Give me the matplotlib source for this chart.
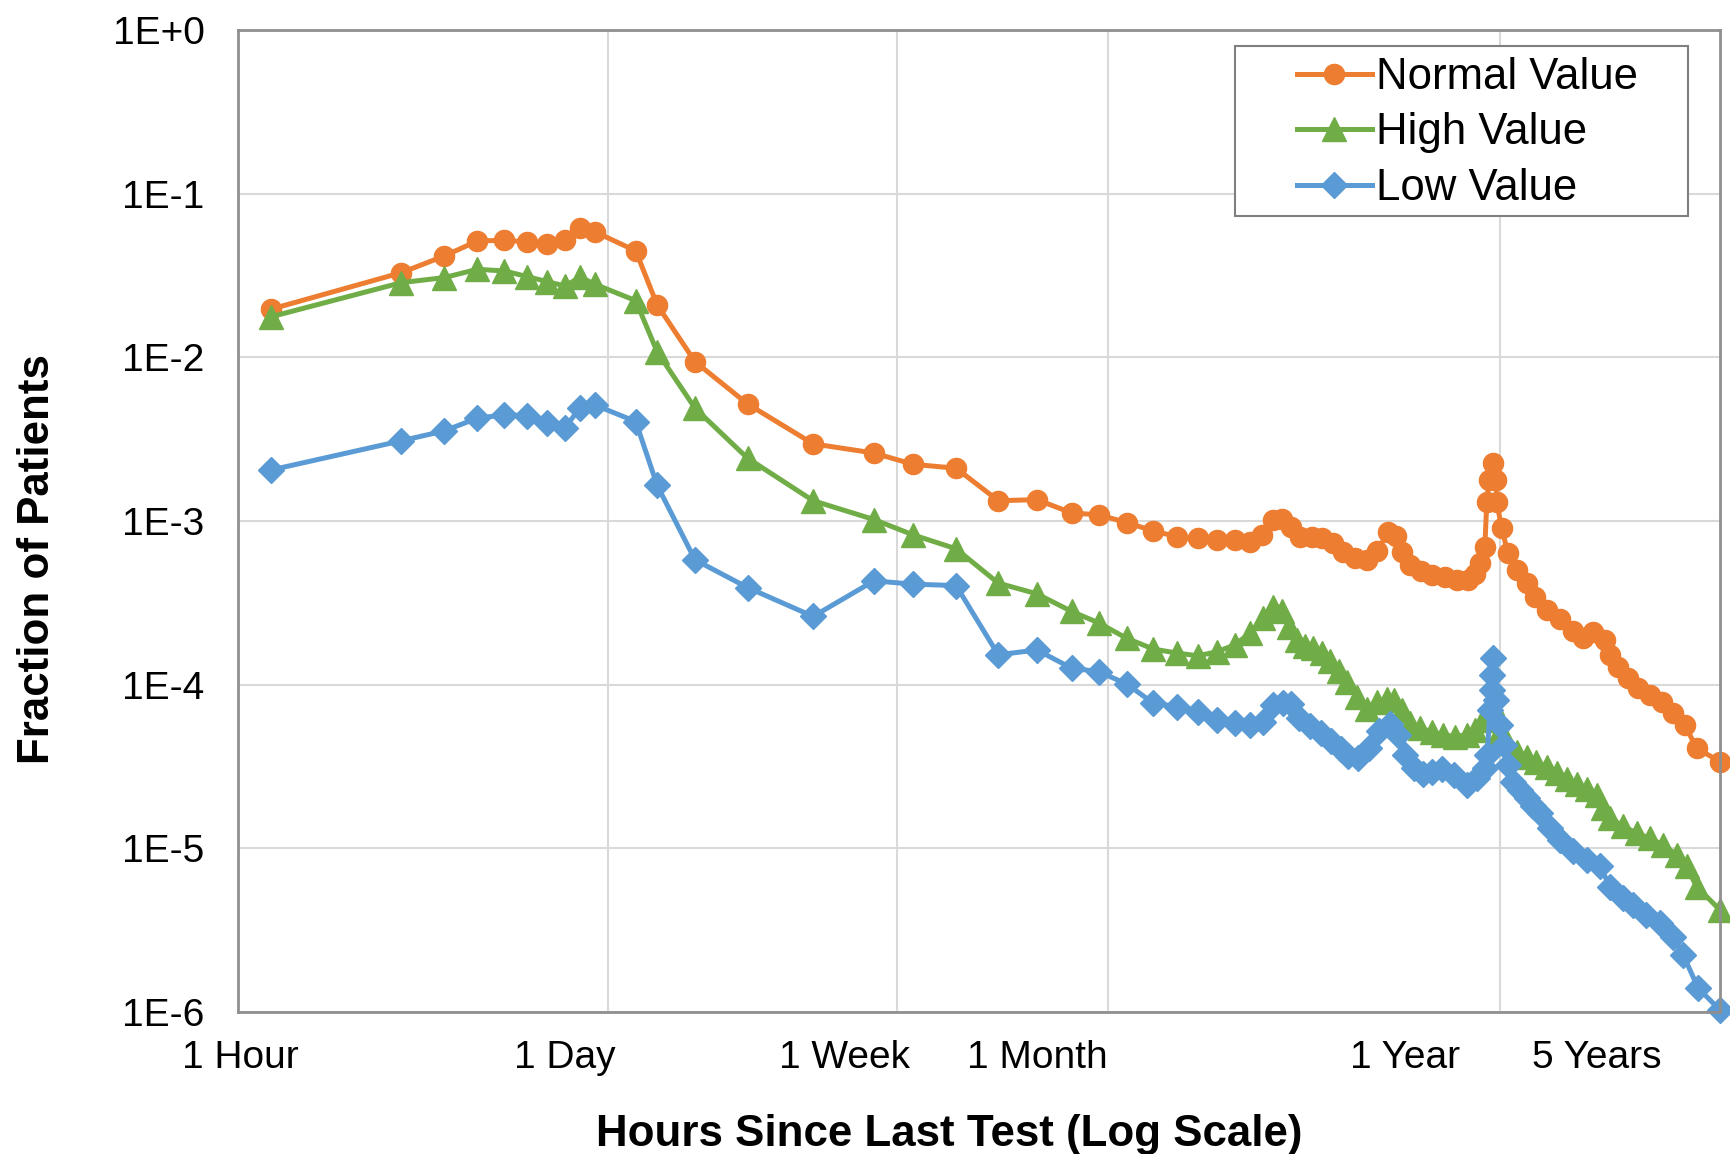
import matplotlib
matplotlib.use("Agg")
import matplotlib.pyplot as plt
from matplotlib.patches import Rectangle
from matplotlib.ticker import FixedLocator, NullLocator, NullFormatter

plt.rcParams['font.family'] = ['Liberation Sans', 'DejaVu Sans']

# Hours since last test and fraction of patients
normal_hours = [2.5, 6, 8, 10, 12, 14, 16, 18, 20, 22, 29, 33.5, 43.2, 61.5, 95.6, 144, 187, 250, 332,
                430, 544, 653, 787, 941, 1101, 1273, 1447, 1629, 1802, 1950, 2108, 2242, 2375, 2522,
                2729, 2934, 3155, 3375, 3650, 3950, 4246, 4557, 4809, 5023, 5283, 5690, 6146, 6686,
                7271, 7804, 8178, 8458, 8748, 8865, 8986, 9232, 9419, 9484, 9788, 10230, 10830, 11580,
                12240, 13250, 14490, 15840, 16940, 18120, 19610, 20280, 21440, 22930, 24520, 26530,
                28700, 31020, 33570, 36310, 42460]
normal_vals = [0.0197, 0.0329, 0.0416, 0.0514, 0.0519, 0.0507, 0.0491, 0.0519, 0.0620, 0.0586, 0.0447,
               0.0209, 0.00941, 0.00519, 0.00296, 0.00260, 0.00222, 0.00210, 0.00133,
               0.00135, 0.00112, 0.00109, 0.000978, 0.000870, 0.000803, 0.000785, 0.000766, 0.000766,
               0.000748, 0.000823, 0.00102, 0.00103, 0.000920, 0.000799, 0.000794, 0.000783, 0.000732,
               0.000650, 0.000592, 0.000574, 0.000657, 0.000852, 0.000811, 0.000643, 0.000539, 0.000492,
               0.000469, 0.000452, 0.000437, 0.000437, 0.000475, 0.000555, 0.000695, 0.00131, 0.00178,
               0.00226, 0.00178, 0.00131, 0.000904, 0.000636, 0.000503, 0.000417, 0.000345, 0.000286,
               0.000252, 0.000213, 0.000193, 0.000210, 0.000188, 0.000152, 0.000129, 0.000110,
               0.0000952, 0.0000866, 0.0000788, 0.0000670, 0.0000568, 0.0000409, 0.0000339]

high_hours = [2.5, 6, 8, 10, 12, 14, 16, 18, 20, 22, 29, 33.5, 43.2, 61.5, 95.6, 144, 187, 250, 332,
              430, 544, 653, 787, 941, 1101, 1273, 1447, 1629, 1802, 1971, 2108, 2235, 2342, 2472,
              2608, 2759, 2918, 3085, 3279, 3471, 3700, 3950, 4224, 4517, 4746, 4996, 5283, 5651,
              6113, 6609, 7150, 7735, 8178, 8650, 8945, 9170, 9356, 9549, 10120, 10830, 11580, 12380,
              13250, 14170, 15150, 16210, 17340, 18540, 19350, 20280, 22170, 24260, 26530, 29010,
              31740, 33950, 36310, 42460]
high_vals = [0.0177, 0.0286, 0.0307, 0.0345, 0.0337, 0.0311, 0.0290, 0.0273, 0.0309, 0.0280, 0.0222,
             0.0108, 0.00489, 0.00242, 0.00133, 0.00102, 0.000823, 0.000676, 0.000417,
             0.000359, 0.000280, 0.000238, 0.000192, 0.000165, 0.000156, 0.000150, 0.000159, 0.000175,
             0.000206, 0.000255, 0.000297, 0.000282, 0.000226, 0.000188, 0.000173, 0.000167, 0.000157,
             0.000140, 0.000121, 0.000104, 0.0000842, 0.0000712, 0.0000785, 0.0000819, 0.0000808,
             0.0000702, 0.0000584, 0.0000542, 0.0000517, 0.0000493, 0.0000482, 0.0000493, 0.0000530,
             0.0000610, 0.0000702, 0.0000774, 0.0000654, 0.0000493, 0.0000447, 0.0000389, 0.0000362,
             0.0000338, 0.0000315, 0.0000289, 0.0000266, 0.0000248, 0.0000231, 0.0000212, 0.0000177,
             0.0000154, 0.0000136, 0.0000124, 0.0000115, 0.0000105, 0.00000913, 0.00000774,
             0.00000584, 0.00000421]

low_hours = [2.5, 6, 8, 10, 12, 14, 16, 18, 20, 22, 29, 33.5, 43.2, 61.5, 95.6, 144, 187, 250, 332,
             430, 544, 653, 787, 941, 1101, 1273, 1447, 1629, 1802, 1971, 2108, 2254, 2382, 2505,
             2697, 2905, 3117, 3322, 3490, 3733, 4011, 4291, 4620, 4885, 5109, 5427, 5768, 6113,
             6552, 7102, 7735, 8318, 8748, 8896, 9046, 9170, 9200, 9260, 9419, 9677, 9940, 10210,
             10580, 11070, 11580, 12080, 12660, 13540, 14490, 15840, 17340, 18950, 20280, 22170,
             23710, 25940, 28380, 31020, 33180, 36700, 42460]
low_vals = [0.00205, 0.00309, 0.00355, 0.00425, 0.00445, 0.00440, 0.00396, 0.00372, 0.00493, 0.00512,
            0.00405, 0.00165, 0.000579, 0.000392, 0.000261, 0.000431, 0.000411, 0.000403, 0.000152,
            0.000163, 0.000126, 0.000120, 0.000101, 0.0000771, 0.0000735, 0.0000685, 0.0000610,
            0.0000582, 0.0000568, 0.0000595, 0.0000753, 0.0000774, 0.0000763, 0.0000627, 0.0000556,
            0.0000505, 0.0000450, 0.0000405, 0.0000364, 0.0000356, 0.0000411, 0.0000518, 0.0000576,
            0.0000493, 0.0000372, 0.0000310, 0.0000285, 0.0000294, 0.0000306, 0.0000281, 0.0000244,
            0.0000268, 0.0000309, 0.0000372, 0.0000702, 0.0000929, 0.000115, 0.000145, 0.0000808,
            0.0000568, 0.0000429, 0.0000324, 0.0000255, 0.0000228, 0.0000203, 0.0000182, 0.0000164,
            0.0000133, 0.0000113, 0.00000956, 0.00000851, 0.00000782, 0.00000584, 0.00000496,
            0.00000452, 0.00000393, 0.00000349, 0.00000289, 0.00000224, 0.00000140, 0.00000103]

x_tick_labels = ["1 Hour", "1 Day", "1 Week", "1 Month", "1 Year", "5 Years"]
y_ticks = [1, 1e-1, 1e-2, 1e-3, 1e-4, 1e-5, 1e-6]
y_tick_labels = ["1E+0", "1E-1", "1E-2", "1E-3", "1E-4", "1E-5", "1E-6"]

# where Excel put the labels and the vertical gridlines (hours on this axis)
label_pos = [2.03, 18.0, 118, 433, 5110, 18570]
grid_pos = [24, 168, 694, 9680]

fig = plt.figure(figsize=(17.31, 11.54), dpi=100)
ax = fig.add_axes([0.1375, 0.1231, 0.8561, 0.8509])

ax.plot(normal_hours, normal_vals, color='#ED7D31', lw=3.6, marker='o', ms=14.5,
        mec='#ED7D31', label='Normal Value', clip_on=False)
ax.plot(high_hours, high_vals, color='#70AD47', lw=3.6, marker='^', ms=17.5,
        mec='#70AD47', label='High Value', clip_on=False)
ax.plot(low_hours, low_vals, color='#5B9BD5', lw=3.6, marker='D', ms=13,
        mec='#5B9BD5', label='Low Value', clip_on=False)

ax.set_xscale('log')
ax.set_yscale('log')
ax.set_xlim(2, 42500)
ax.set_ylim(1e-6, 1)

ax.xaxis.set_major_locator(FixedLocator(label_pos))
ax.set_xticklabels(x_tick_labels)
ax.xaxis.set_minor_locator(FixedLocator(grid_pos))
ax.xaxis.set_minor_formatter(NullFormatter())
ax.yaxis.set_major_locator(FixedLocator(y_ticks))
ax.set_yticklabels(y_tick_labels)
ax.yaxis.set_minor_locator(NullLocator())

ax.tick_params(axis='both', which='both', length=0, labelsize=28)
ax.tick_params(axis='x', pad=20)
ax.tick_params(axis='y', pad=24)

ax.grid(False, axis='x', which='major')
ax.grid(True, axis='x', which='minor', color='#d9d9d9', lw=1.5)
ax.grid(True, axis='y', which='major', color='#d9d9d9', lw=1.5)
ax.set_axisbelow(True)

for s in ax.spines.values():
    s.set_color('#8f8f8f')
    s.set_linewidth(2)

ax.set_xlabel("Hours Since Last Test (Log Scale)", fontsize=31.6, fontweight='bold')
ax.set_ylabel("Fraction of Patients", fontsize=31.6, fontweight='bold')
ax.xaxis.set_label_coords(0.4798, -0.1252)
ax.yaxis.set_label_coords(-0.1355, 0.4617)
ax.xaxis.label.set_va('center')
ax.yaxis.label.set_va('center')

# legend box drawn separately so its padding matches the Excel one
box = Rectangle((1235 / 1731, 1 - 216 / 1154), (1688 - 1235) / 1731, 170 / 1154,
                transform=fig.transFigure, facecolor='white', edgecolor='#7f7f7f',
                lw=1.5, clip_on=False, zorder=4.5)
ax.add_patch(box)
leg = ax.legend(loc='upper left', bbox_to_anchor=(1297 / 1731, 1 - 57 / 1154),
                bbox_transform=fig.transFigure, fontsize=31.5, frameon=False,
                borderaxespad=0, borderpad=0, handlelength=1.71,
                handletextpad=0.1, labelspacing=0.33)
leg.set_zorder(5)

fig.savefig('out.png', dpi=100)
